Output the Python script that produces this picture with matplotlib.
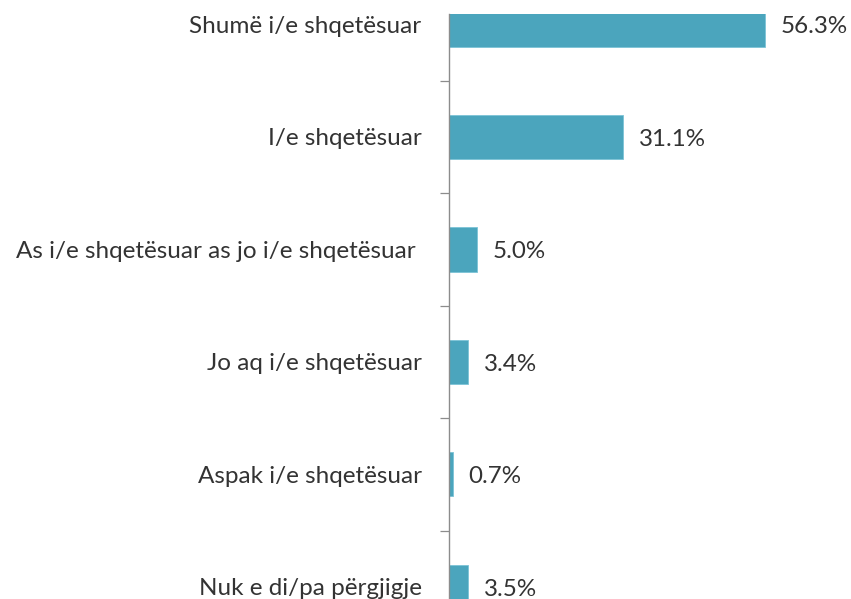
import matplotlib.pyplot as plt
from matplotlib.ticker import FixedLocator

# Dados
categorias = ['Shumë i/e shqetësuar', 'I/e shqetësuar',
              'As i/e shqetësuar as jo i/e shqetësuar ', 'Jo aq i/e shqetësuar',
              'Aspak i/e shqetësuar', 'Nuk e di/pa përgjigje']
valores = [56.3, 31.1, 5.0, 3.4, 0.7, 3.5]
rotulos = ['56.3%', '31.1%', '5.0%', '3.4%', '0.7%', '3.5%']

plt.rcParams['font.family'] = ['Lato', 'DejaVu Sans']
cor_texto = '#333333'

fig = plt.figure(figsize=(8.51, 5.99), dpi=100)
# eixo desenhado além da borda inferior (gráfico cortado como no original)
ax = fig.add_axes([448.7 / 851, 1 - 643 / 599, 1 - 448.7 / 851, (643 - 14) / 599])

pos = list(range(len(categorias)))
ax.barh(pos, valores, height=0.394, color='#4BA5BD', edgecolor='#7CC3D6', linewidth=0.6)

for p, v, r in zip(pos, valores, rotulos):
    ax.annotate(r, (v, p), xytext=(11.5, -1.8), textcoords='offset points',
                va='center', ha='left', fontsize=17.4, color=cor_texto)

ax.set_xlim(0, (851 - 448.7) / 5.62)
ax.set_ylim(5.5, -0.093)

ax.set_yticks(pos)
ax.set_yticklabels(categorias, fontsize=17.5, color=cor_texto)
ax.tick_params(axis='y', which='major', length=0, pad=19.5)
ax.yaxis.set_minor_locator(FixedLocator([0.5, 1.5, 2.5, 3.5, 4.5]))
ax.tick_params(axis='y', which='minor', length=6.8, width=0.9, color='#8c8c8c', direction='out')
ax.set_xticks([])

for s in ['top', 'right', 'bottom']:
    ax.spines[s].set_visible(False)
ax.spines['left'].set_color('#8c8c8c')
ax.spines['left'].set_linewidth(1.0)

fig.savefig('out.png', dpi=100)
